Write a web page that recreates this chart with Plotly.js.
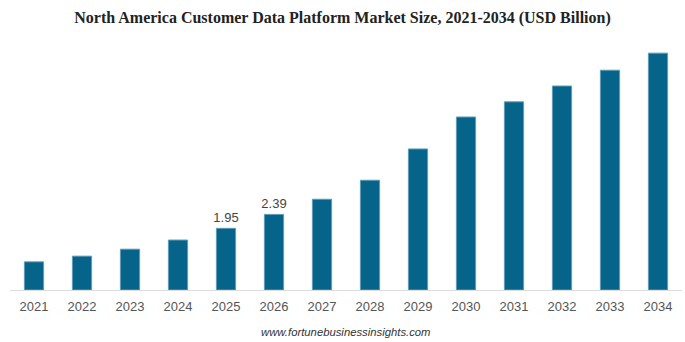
<!DOCTYPE html>
<html>
<head>
<meta charset="utf-8">
<script src="https://cdn.plot.ly/plotly-3.0.1.min.js"></script>
<style>html,body{margin:0;padding:0;background:#fff;}#chart{width:685px;height:342px;}</style>
</head>
<body>
<div id="chart"></div>
<script>
const years = ["2021","2022","2023","2024","2025","2026","2027","2028","2029","2030","2031","2032","2033","2034"];
const marketSize = [0.89,1.07,1.29,1.58,1.95,2.39,2.87,3.47,4.46,5.47,5.95,6.45,6.95,7.49];
const shownLabels = ["","","","","1.95","2.39","","","","","","","",""];
const titleText = "North America Customer Data Platform Market Size, 2021-2034 (USD Billion)";
const sourceText = "www.fortunebusinessinsights.com";

const trace = {
  type: "bar",
  x: years,
  y: marketSize,
  text: shownLabels,
  textposition: "outside",
  constraintext: "none",
  cliponaxis: false,
  textfont: {family: "Liberation Sans, Arial, sans-serif", size: 13, color: "#444"},
  marker: {color: "#06648a", line: {color: "#5d9bb6", width: 1}},
  hoverinfo: "x+y"
};

const layout = {
  width: 685, height: 342,
  margin: {l: 10, r: 3, t: 37, b: 52},
  paper_bgcolor: "#fff", plot_bgcolor: "#fff",
  bargap: 0.6,
  showlegend: false,
  title: {text: "<b>" + titleText + "</b>", x: 0.5, xanchor: "center", y: 0.95, yanchor: "middle",
          font: {family: "Liberation Serif, Times New Roman, serif", size: 16, color: "#222"}},
  xaxis: {type: "category", showgrid: false, zeroline: false, showline: true, linecolor: "#ddd", linewidth: 1,
          ticks: "", ticklabelstandoff: 4,
          tickfont: {family: "Liberation Sans, Arial, sans-serif", size: 13, color: "#555"}},
  yaxis: {range: [0, 8], visible: false, showgrid: false, zeroline: false},
  annotations: [{text: "<i>" + sourceText + "</i>", xref: "paper", yref: "paper", x: 0.5, y: -0.165,
                 xanchor: "center", yanchor: "middle", showarrow: false,
                 font: {family: "Liberation Sans, Arial, sans-serif", size: 11.3, color: "#333"}}]
};

Plotly.newPlot("chart", [trace], layout, {displayModeBar: false, staticPlot: true});
</script>
</body>
</html>
